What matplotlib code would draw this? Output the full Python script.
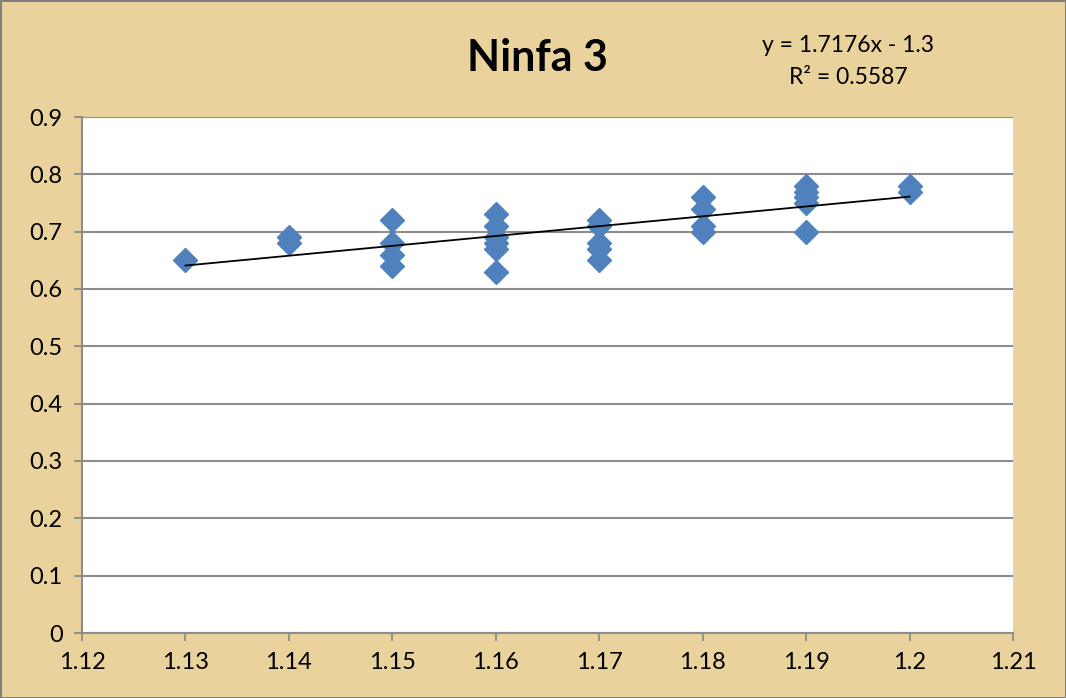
import numpy as np
import matplotlib.pyplot as plt

# data
x_vals = [1.13,
          1.14, 1.14,
          1.15, 1.15, 1.15, 1.15,
          1.16, 1.16, 1.16, 1.16, 1.16, 1.16,
          1.17, 1.17, 1.17, 1.17, 1.17,
          1.18, 1.18, 1.18, 1.18,
          1.19, 1.19, 1.19, 1.19, 1.19,
          1.2, 1.2]
y_vals = [0.65,
          0.69, 0.68,
          0.72, 0.68, 0.66, 0.64,
          0.73, 0.71, 0.69, 0.68, 0.67, 0.63,
          0.72, 0.71, 0.68, 0.67, 0.65,
          0.76, 0.74, 0.71, 0.70,
          0.78, 0.77, 0.76, 0.75, 0.70,
          0.78, 0.77]
slope = 1.7176
intercept = -1.3
r2 = 0.5587
title = "Ninfa 3"

plt.rcParams['font.family'] = ['Lato', 'DejaVu Sans']

fig = plt.figure(figsize=(10.66, 6.98), dpi=100)
fig.patch.set_facecolor('#e9d29c')
fig.patch.set_edgecolor('#7f7f7f')
fig.patch.set_linewidth(2)

ax = fig.add_axes([82 / 1066, 1 - 633 / 698, (1013 - 82) / 1066, (633 - 117) / 698])
ax.set_facecolor('white')

ax.plot(x_vals, y_vals, linestyle='none', marker='D', markersize=12,
        color='#4f81bd', zorder=3)

# linear trendline
xl = np.array([min(x_vals), max(x_vals)])
ax.plot(xl, slope * xl + intercept, color='black', linewidth=1.3, zorder=4)

ax.set_xlim(1.12, 1.21)
ax.set_ylim(0, 0.9)
ax.set_xticks(np.arange(1.12, 1.2101, 0.01))
ax.set_xticklabels(['1.12', '1.13', '1.14', '1.15', '1.16', '1.17', '1.18', '1.19', '1.2', '1.21'])
ax.set_yticks(np.arange(0, 0.901, 0.1))
ax.set_yticklabels(['0', '0.1', '0.2', '0.3', '0.4', '0.5', '0.6', '0.7', '0.8', '0.9'])
ax.grid(axis='y', color='#8c8c8c', linewidth=1.5)
ax.set_axisbelow(True)
for s in ['top', 'right']:
    ax.spines[s].set_visible(False)
for s in ['left', 'bottom']:
    ax.spines[s].set_color('#8c8c8c')
    ax.spines[s].set_linewidth(1.5)
ax.tick_params(axis='both', direction='out', length=6, width=1.3, color='#8c8c8c',
               labelsize=17, pad=8)

fig.text(537 / 1066, 1 - 58 / 698, title, fontsize=31, fontweight='bold',
         ha='center', va='center')
fig.text(848 / 1066, 1 - 45 / 698, f"y = {slope}x - {-intercept}", fontsize=16.5,
         ha='center', va='center')
fig.text(848 / 1066, 1 - 78 / 698, f"R² = {r2}", fontsize=16.5,
         ha='center', va='center')

fig.savefig('out.png', dpi=100, facecolor=fig.get_facecolor(), edgecolor=fig.get_edgecolor())
